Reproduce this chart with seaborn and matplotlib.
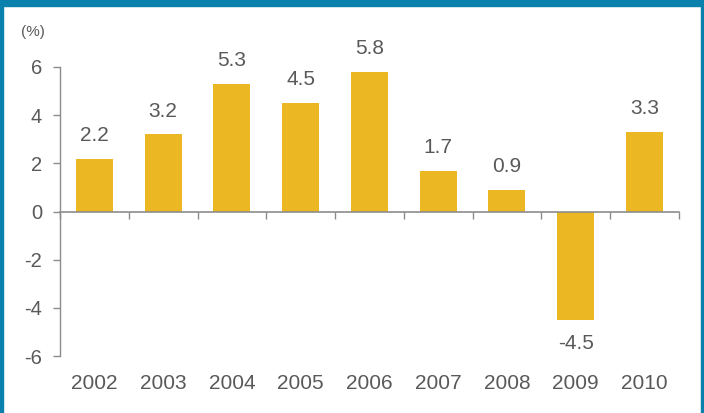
import matplotlib
matplotlib.use("Agg")
import matplotlib.pyplot as plt
import seaborn as sns
import pandas as pd
from matplotlib.patches import Rectangle

years = ["2002", "2003", "2004", "2005", "2006", "2007", "2008", "2009", "2010"]
growth = [2.2, 3.2, 5.3, 4.5, 5.8, 1.7, 0.9, -4.5, 3.3]
y_ticks = [-6, -4, -2, 0, 2, 4, 6]

sns.set_theme(style="white")
plt.rcParams["font.family"] = ["Liberation Sans", "DejaVu Sans"]

txt = "#595959"
bar_c = "#EBB723"
frame_c = "#0A80AC"
spine_c = "#8C8C8C"

df = pd.DataFrame({"year": years, "growth": growth})

fig = plt.figure(figsize=(7.04, 4.13), dpi=100)
ax = fig.add_axes([60 / 704, 1 - 356 / 413, (678.75 - 60) / 704, (356 - 67) / 413])

sns.barplot(data=df, x="year", y="growth", color=bar_c, saturation=1, width=0.54, ax=ax)
for p in ax.patches:
    p.set_edgecolor("none")

ax.set_xlim(-0.5, len(years) - 0.5)
ax.set_ylim(-6, 6)
ax.set_yticks(y_ticks)
ax.set_yticklabels([str(v) for v in y_ticks])
ax.set_xlabel("")
ax.set_ylabel("")

for s in ["top", "right"]:
    ax.spines[s].set_visible(False)
ax.spines["left"].set_color(spine_c)
ax.spines["left"].set_linewidth(1.0)
ax.spines["bottom"].set_color(spine_c)
ax.spines["bottom"].set_linewidth(1.2)
ax.spines["bottom"].set_position(("data", 0))

ax.tick_params(axis="y", length=5, width=1, color=spine_c, labelcolor=txt, labelsize=14.5, pad=8, left=True)
ax.tick_params(axis="x", which="major", length=0, labelcolor=txt, labelsize=15, pad=117)
ax.set_xticks([i - 0.5 for i in range(len(years) + 1)], minor=True)
ax.tick_params(axis="x", which="minor", length=5, width=1, color=spine_c, bottom=True)

for c in ax.containers:
    ax.bar_label(c, labels=[f"{v:.1f}" for v in growth], padding=10, fontsize=15, color=txt)

fig.text(33 / 704, 1 - 32 / 413, "(%)", ha="center", va="center", fontsize=11, color=txt)

# frame
fig.patches.append(Rectangle((0, 1 - 6 / 413), 1, 6 / 413, transform=fig.transFigure, color=frame_c, zorder=10))
fig.patches.append(Rectangle((0, 0), 2.5 / 704, 1, transform=fig.transFigure, color=frame_c, zorder=10))
fig.patches.append(Rectangle((1 - 3 / 704, 0), 3 / 704, 1, transform=fig.transFigure, color=frame_c, zorder=10))

fig.savefig("out.png", dpi=100)
